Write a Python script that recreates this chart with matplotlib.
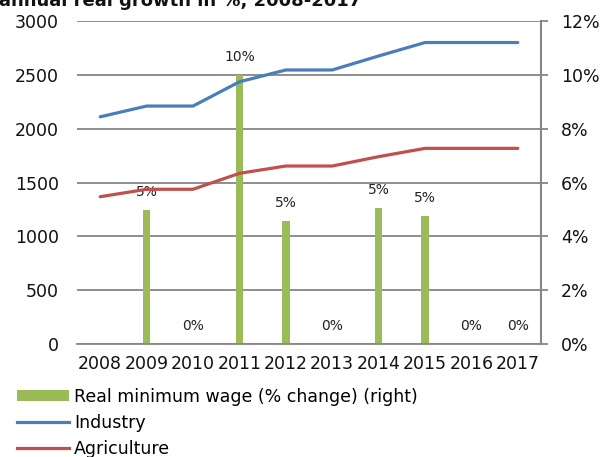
import matplotlib
matplotlib.use("Agg")
import matplotlib.pyplot as plt
import numpy as np
from matplotlib.ticker import FuncFormatter, MultipleLocator
from matplotlib.patches import Patch
from matplotlib.lines import Line2D

years = ["2008", "2009", "2010", "2011", "2012", "2013", "2014", "2015", "2016", "2017"]
industry = [2110, 2210, 2210, 2435, 2545, 2545, 2675, 2800, 2800, 2800]
agriculture = [1368, 1437, 1437, 1585, 1653, 1653, 1740, 1817, 1817, 1817]
min_wage_change = [np.nan, 4.98, 0.0, 10.0, 4.57, 0.0, 5.04, 4.75, 0.0, 0.0]

title_text = "annual real growth in %, 2008-2017"
bar_label = "Real minimum wage (% change) (right)"
industry_label = "Industry"
agri_label = "Agriculture"

c_bar = "#9BBB59"
c_ind = "#4A7EBB"
c_agr = "#C0504D"
c_grid = "#868686"

plt.rcParams['font.family'] = ['DejaVu Sans']

W, H = 601, 457
fig = plt.figure(figsize=(W / 100, H / 100), dpi=100)
left, right, bottom, top = 77 / W, 541 / W, 1 - 344 / H, 1 - 21 / H
ax2 = fig.add_axes([left, bottom, right - left, top - bottom])
ax = ax2.twinx()

x = np.arange(len(years))

# bars on right axis (behind)
ax2.bar(x, min_wage_change, width=0.16, color=c_bar, zorder=2)
ax2.set_ylim(0, 12)
ax2.yaxis.set_major_locator(MultipleLocator(2))
ax2.yaxis.set_major_formatter(FuncFormatter(lambda v, p: f"{v:.0f}%"))
ax2.yaxis.tick_right()
ax2.yaxis.set_label_position("right")
ax2.grid(axis='y', color=c_grid, linewidth=1.3, zorder=0)
ax2.set_axisbelow(True)
for xi, v in zip(x, min_wage_change):
    if not np.isnan(v):
        ax2.annotate(f"{v:.0f}%", (xi, v), xytext=(0, 8), textcoords='offset points',
                     ha='center', va='bottom', fontsize=10, color='#222222')

# lines on left axis
ax.plot(x, industry, color=c_ind, linewidth=2.3, solid_capstyle='round', zorder=3)
ax.plot(x, agriculture, color=c_agr, linewidth=2.3, solid_capstyle='round', zorder=3)
ax.set_ylim(0, 3000)
ax.yaxis.set_major_locator(MultipleLocator(500))
ax.yaxis.tick_left()
ax.yaxis.set_label_position("left")

ax.set_xlim(-0.5, len(years) - 0.5)
ax2.set_xlim(-0.5, len(years) - 0.5)
ax2.set_xticks(x)
ax2.set_xticklabels(years)

for a in (ax, ax2):
    for s in ('top', 'left', 'bottom', 'right'):
        a.spines[s].set_visible(False)
ax2.spines['right'].set_visible(True)
ax2.spines['right'].set_color(c_grid)
ax2.spines['right'].set_linewidth(1.5)
ax2.spines['bottom'].set_visible(True)
ax2.spines['bottom'].set_color(c_grid)
ax2.spines['bottom'].set_linewidth(1.3)

ax.tick_params(axis='y', length=0, pad=13, labelsize=12.5, colors='#111111')
ax2.tick_params(axis='y', which='both', direction='out', length=5, width=1.3,
                color=c_grid, pad=9.5, labelsize=12.5, labelcolor='#111111')
ax2.tick_params(axis='x', length=0, pad=8, labelsize=12.5, labelcolor='#111111')

fig.text(-0.002, 1 - 5.5 / H, title_text, fontsize=13, fontweight='bold',
         ha='left', va='baseline', color='#111111')

handles = [Patch(facecolor=c_bar, edgecolor='none'),
           Line2D([], [], color=c_ind, linewidth=2.3),
           Line2D([], [], color=c_agr, linewidth=2.3)]
fig.legend(handles, [bar_label, industry_label, agri_label], loc='upper left',
           bbox_to_anchor=(17 / W, 1 - 388 / H), frameon=False, fontsize=12.5,
           handlelength=3.0, handleheight=0.6, handletextpad=0.3, labelspacing=0.45,
           borderaxespad=0, borderpad=0)

fig.savefig("out.png", dpi=100)
